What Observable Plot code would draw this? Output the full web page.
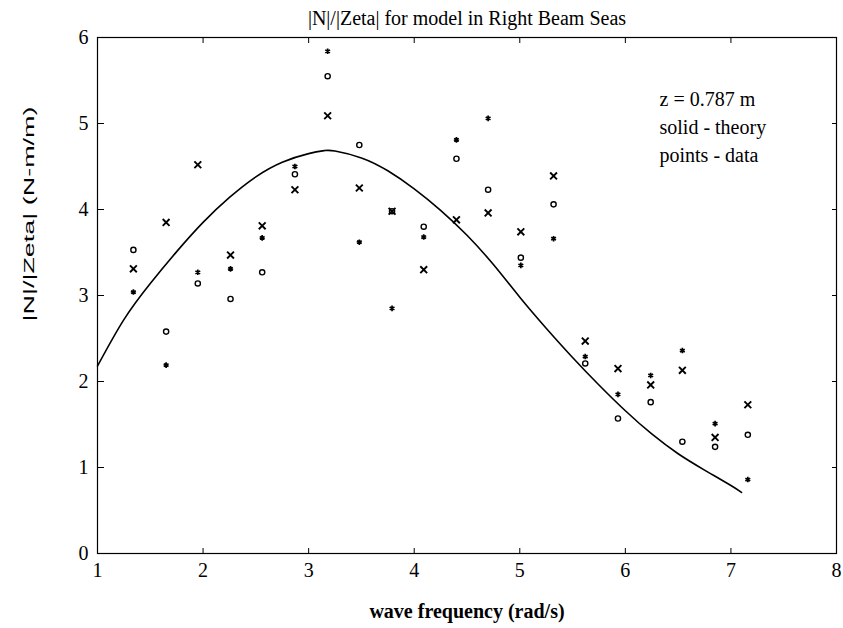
<!DOCTYPE html>
<html><head><meta charset="utf-8">
<script src="https://cdn.jsdelivr.net/npm/d3@7"></script>
<script src="https://cdn.jsdelivr.net/npm/@observablehq/plot@0.6"></script>
<style>body{margin:0;background:#fff}</style>
</head><body><div id="chart"></div>
<script>
const freq = [1.34,1.65,1.95,2.26,2.56,2.87,3.18,3.48,3.79,4.09,4.40,4.70,5.01,5.32,5.62,5.93,6.24,6.54,6.85,7.16];
const xMarks = [3.31,3.85,4.52,3.47,3.81,4.23,5.09,4.25,3.98,3.30,3.88,3.96,3.74,4.39,2.47,2.15,1.96,2.13,1.35,1.73];
const oMarks = [3.53,2.58,3.14,2.96,3.27,4.41,5.55,4.75,3.98,3.80,4.59,4.23,3.44,4.06,2.21,1.57,1.76,1.30,1.24,1.38];
const starMarks = [3.04,2.19,3.27,3.31,3.67,4.50,5.84,3.62,2.85,3.68,4.81,5.06,3.35,3.66,2.29,1.85,2.07,2.36,1.51,0.86];
const theoryFreq = [1.0,1.25,1.5,1.75,2.0,2.25,2.5,2.75,3.0,3.15,3.25,3.5,3.75,4.0,4.25,4.5,4.75,5.0,5.25,5.5,5.75,6.0,6.25,6.5,6.75,7.0,7.1];
const theoryVal = [2.18,2.72,3.14,3.51,3.85,4.14,4.38,4.55,4.65,4.685,4.68,4.60,4.45,4.24,3.99,3.70,3.36,2.98,2.62,2.28,1.96,1.66,1.39,1.16,0.97,0.79,0.71];
const xTicks = [1,2,3,4,5,6,7,8];
const yTicks = [0,1,2,3,4,5,6];
const titleText = "|N|/|Zeta| for model in Right Beam Seas";
const xLabel = "wave frequency (rad/s)";
const yLabel = "|N|/|Zeta| (N-m/m)";
const notes = ["z = 0.787 m", "solid - theory", "points - data"];

const theory = theoryFreq.map((f, i) => ({f, v: theoryVal[i]}));
const pts = (vals) => freq.map((f, i) => ({f, v: vals[i]}));
const blank = () => "";
const plain = d => String(d);

const chart = Plot.plot({
  width: 843, height: 628,
  marginLeft: 97, marginRight: 7, marginTop: 37, marginBottom: 75,
  style: {fontFamily: "'Liberation Serif', 'Times New Roman', serif", fontSize: "20px", color: "black", background: "white"},
  x: {domain: [1, 8]},
  y: {domain: [0, 6]},
  marks: [
    Plot.frame({stroke: "black", strokeWidth: 1.2}),
    // inward tick marks on all four sides
    Plot.axisX(xTicks, {anchor: "bottom", tickSize: 5, dy: -5, tickFormat: blank, label: null}),
    Plot.axisX(xTicks, {anchor: "top", tickSize: 5, dy: 5, tickFormat: blank, label: null}),
    Plot.axisY(yTicks, {anchor: "left", tickSize: 7, dx: 7, tickFormat: blank, label: null}),
    Plot.axisY(yTicks, {anchor: "right", tickSize: 5, dx: -5, tickFormat: blank, label: null}),
    // tick labels
    Plot.axisX(xTicks, {anchor: "bottom", tickSize: 0, tickPadding: 9, tickFormat: plain, fontSize: 20, label: null}),
    Plot.axisY(yTicks, {anchor: "left", tickSize: 0, tickPadding: 9, tickFormat: plain, fontSize: 20, label: null}),
    Plot.line(theory, {x: "f", y: "v", stroke: "black", strokeWidth: 1.6, curve: "natural"}),
    Plot.dot(pts(xMarks), {x: "f", y: "v", symbol: "times", r: 3.2, stroke: "black", strokeWidth: 1.9}),
    Plot.dot(pts(oMarks), {x: "f", y: "v", symbol: "circle", r: 2.6, stroke: "black", strokeWidth: 1.4, fill: "none"}),
    Plot.dot(pts(starMarks), {x: "f", y: "v", symbol: "asterisk", r: 2.6, stroke: "black", strokeWidth: 1.7}),
    Plot.text([titleText], {text: d => d, frameAnchor: "top", dy: -27, fontSize: 20}),
    Plot.text([xLabel], {text: d => d, frameAnchor: "bottom", dy: 64, fontSize: 20, fontWeight: "bold"}),
    Plot.text([yLabel], {text: d => d, frameAnchor: "left", dx: -68, dy: 26, rotate: -90, fontSize: 15, fontFamily: "'Liberation Sans', Arial, sans-serif"}),
    Plot.text([notes.join("\n")], {text: d => d, frameAnchor: "top-left", dx: 562, dy: 48, textAnchor: "start", lineAnchor: "top", lineHeight: 1.42, fontSize: 20})
  ]
});
d3.select(chart).selectAll("text").filter(function() { return this.textContent === yLabel; })
  .attr("textLength", 215).attr("lengthAdjust", "spacingAndGlyphs");
document.getElementById("chart").appendChild(chart);
</script>
</body></html>
